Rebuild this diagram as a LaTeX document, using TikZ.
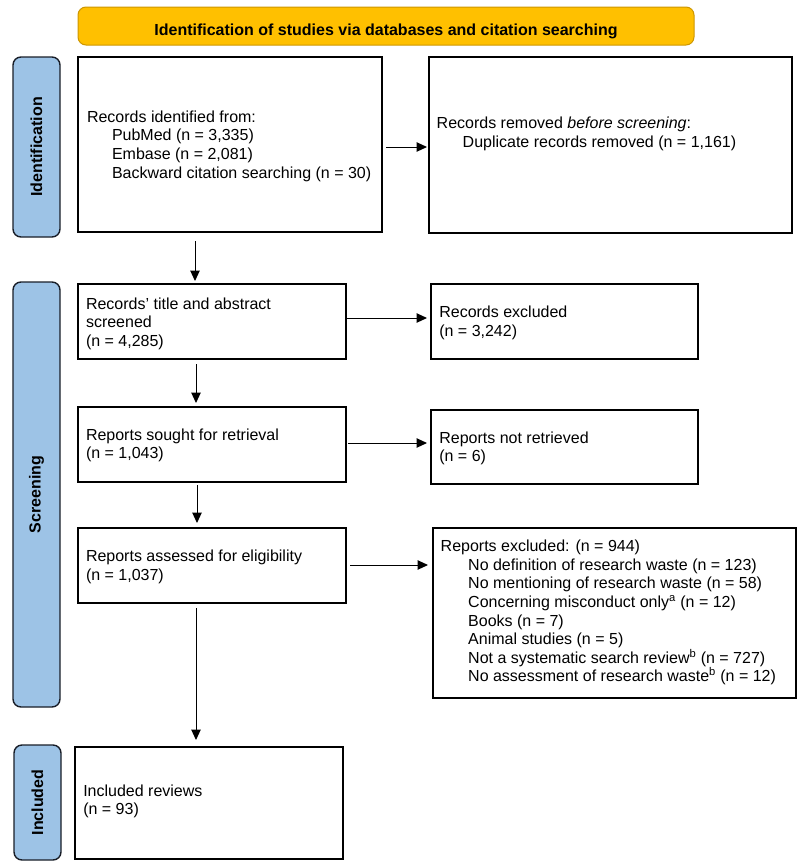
\documentclass[tikz,border=0pt]{standalone}
\usepackage{fontspec}
\setmainfont{Liberation Sans}
\usetikzlibrary{arrows.meta}
\definecolor{bannerfill}{RGB}{255,192,0}
\definecolor{bannerdraw}{RGB}{205,150,0}
\definecolor{barfill}{RGB}{157,195,230}
\definecolor{bardraw}{RGB}{25,30,40}
\begin{document}
\begin{tikzpicture}[x=1pt,y=-1pt,
  box/.style={draw, line width=1.4pt, inner sep=0pt, outer sep=0pt, anchor=north west},
  txt/.style={anchor=north west, inner sep=0pt, outer sep=0pt, align=left, font=\fontsize{16}{18.6}\selectfont},
  bar/.style={draw=bardraw, fill=barfill, line width=1.4pt, rounded corners=8pt, anchor=north west, inner sep=0pt, outer sep=0pt},
  lbl/.style={rotate=90, inner sep=0pt, font=\bfseries\fontsize{16}{18.6}\selectfont},
  banner/.style={draw=bannerdraw, fill=bannerfill, line width=1pt, rounded corners=8pt, anchor=north west, inner sep=0pt, outer sep=0pt},
  arr/.style={-{Triangle[length=10.5pt,width=9.5pt]}, line width=1pt}]
\useasboundingbox (0,0) rectangle (797,868);

% banner
\node[banner, minimum width=616pt, minimum height=38pt] (ban) at (78,7) {};
\node[anchor=base, inner sep=0pt, font=\bfseries\fontsize{16}{18.6}\selectfont] (bantxt) at (386,35) {Identification of studies via databases and citation searching};

% side bars
\node[bar, minimum width=47pt, minimum height=180pt] (idbar) at (13,57) {};
\node[lbl] (idlbl) at (idbar.center) {Identification};
\node[bar, minimum width=47pt, minimum height=425pt] (scbar) at (13,282) {};
\node[lbl] (sclbl) at (scbar.center) {Screening};
\node[bar, minimum width=47pt, minimum height=115pt] (inbar) at (14,745) {};
\node[lbl] (inlbl) at (inbar.center) {Included};

% boxes
\node[box, minimum width=304pt, minimum height=175pt] (b1) at (78,57) {};
\node[box, minimum width=363pt, minimum height=176pt] (rem) at (429,57) {};
\node[box, minimum width=268pt, minimum height=75pt] (b2) at (78,284) {};
\node[box, minimum width=267pt, minimum height=75pt] (exc1) at (431,284) {};
\node[box, minimum width=268pt, minimum height=75pt] (b3) at (78,407) {};
\node[box, minimum width=267pt, minimum height=74pt] (nr) at (431,410) {};
\node[box, minimum width=268pt, minimum height=75pt] (b4) at (78,528) {};
\node[box, minimum width=363pt, minimum height=170pt] (exc2) at (433,528) {};
\node[box, minimum width=268pt, minimum height=112pt] (inc) at (75,747) {};

% texts
\node[txt] (t1) at (87,109.3) {\strut Records identified from:\\
  \hspace*{25pt}PubMed (n = 3,335)\\
  \hspace*{25pt}Embase (n = 2,081)\\
  \hspace*{25pt}Backward citation searching (n = 30)};
\node[txt] (trem) at (436.7,115.5) {\strut Records removed \textit{before screening}:\\
  \hspace*{26pt}Duplicate records removed (n = 1,161)};
\node[txt] (t2) at (86,296) {\strut Records’ title and abstract\\screened\\(n = 4,285)};
\node[txt] (texc1) at (439.3,304.7) {\strut Records excluded\\(n = 3,242)};
\node[txt] (t3) at (86,427) {\strut Reports sought for retrieval\\(n = 1,043)};
\node[txt] (tnr) at (439.3,430.3) {\strut Reports not retrieved\\(n = 6)};
\node[txt] (t4) at (86,548.7) {\strut Reports assessed for eligibility\\(n = 1,037)};
\node[txt] (texc2) at (440.7,538.7) {\strut Reports excluded: (n = 944)\\
  \hspace*{27.5pt}No definition of research waste (n = 123)\\
  \hspace*{27.5pt}No mentioning of research waste (n = 58)\\
  \hspace*{27.5pt}Concerning misconduct only\textsuperscript{a} (n = 12)\\
  \hspace*{27.5pt}Books (n = 7)\\
  \hspace*{27.5pt}Animal studies (n = 5)\\
  \hspace*{27.5pt}Not a systematic search review\textsuperscript{b} (n = 727)\\
  \hspace*{27.5pt}No assessment of research waste\textsuperscript{b} (n = 12)};
\node[txt] (tinc) at (83.3,783) {\strut Included reviews\\(n = 93)};

% connector guides
\coordinate (va) at (195,0);
\coordinate (vb) at (196,0);
\coordinate (vc) at (197,0);
\coordinate (h1) at (0,147);
\coordinate (h2) at (0,318);
\coordinate (h3) at (0,443);
\coordinate (h4) at (0,565);

% vertical arrows
\draw[arr, shorten <=9pt, shorten >=3pt] (b1.south -| va) -- (b2.north -| va);
\draw[arr, shorten <=5pt, shorten >=4pt] (b2.south -| vb) -- (b3.north -| vb);
\draw[arr, shorten <=3pt, shorten >=5pt] (b3.south -| vc) -- (b4.north -| vc);
\draw[arr, shorten <=5pt, shorten >=7pt] (b4.south -| vb) -- (inc.north -| vb);

% horizontal arrows
\draw[arr, shorten <=4pt, shorten >=2pt] (b1.east |- h1) -- (rem.west |- h1);
\draw[arr, shorten <=1pt, shorten >=4pt] (b2.east |- h2) -- (exc1.west |- h2);
\draw[arr, shorten <=2pt, shorten >=4pt] (b3.east |- h3) -- (nr.west |- h3);
\draw[arr, shorten <=4pt, shorten >=5pt] (b4.east |- h4) -- (exc2.west |- h4);
\end{tikzpicture}
\end{document}
